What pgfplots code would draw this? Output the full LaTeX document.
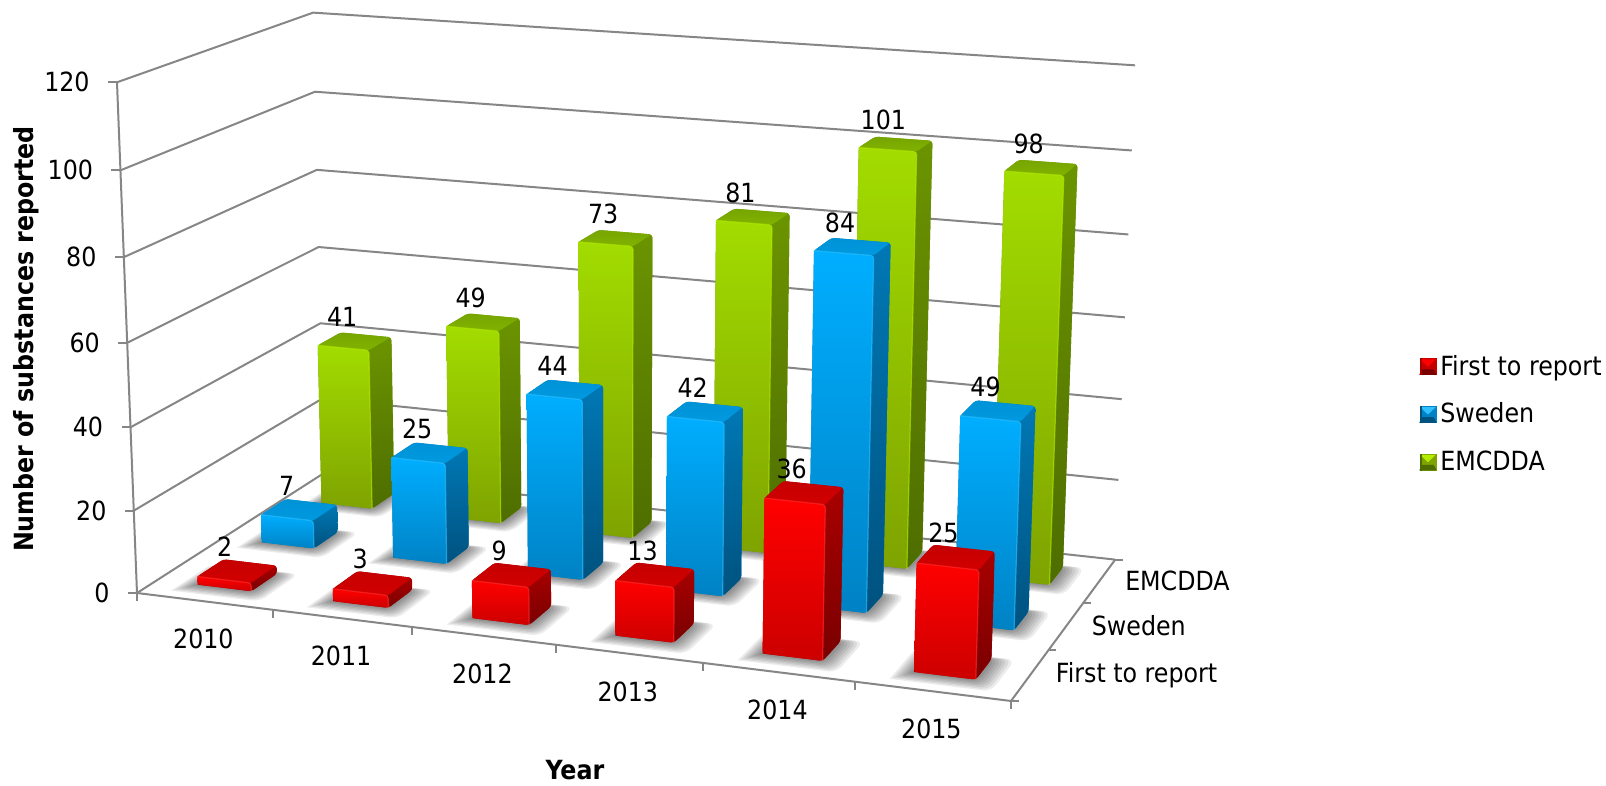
\documentclass[border=0pt]{standalone}
\usepackage{pgfplots}
\usepackage{pgfplotstable}
\usepackage{fontspec}
\pgfplotsset{compat=1.18}
\setmainfont{DejaVu Sans Condensed}[BoldFont={DejaVu Sans Condensed Bold}]
\newcommand\fs{\fontsize{13.2}{15.5}\selectfont}
\definecolor{grid}{HTML}{868686}
\definecolor{gT}{HTML}{A2DC00}\definecolor{gB}{HTML}{7FA300}\definecolor{gST}{HTML}{6B9400}\definecolor{gSB}{HTML}{4E6D00}\definecolor{gC}{HTML}{76A500}\definecolor{gL}{HTML}{B4EC00}
\definecolor{bT}{HTML}{00AEFF}\definecolor{bB}{HTML}{0082C4}\definecolor{bST}{HTML}{0078B5}\definecolor{bSB}{HTML}{00527F}\definecolor{bC}{HTML}{0092D6}\definecolor{bL}{HTML}{30C0FF}
\definecolor{rT}{HTML}{FF0000}\definecolor{rB}{HTML}{CC0000}\definecolor{rST}{HTML}{A80000}\definecolor{rSB}{HTML}{7A0000}\definecolor{rC}{HTML}{C40000}\definecolor{rL}{HTML}{FF3030}

% Perspective of the 3-D chart box: X = year slot 0..6, Y = series slot 0..3, Z = value 0..120
\pgfmathdeclarefunction{PU}{3}{\pgfmathparse{(792.4*((#1)/6)+224.4*((#2)/3)+137-24.68*((#3)/120))/(1-0.08073*((#1)/6)+0.11536*((#2)/3)-0.04*((#3)/120))}}
\pgfmathdeclarefunction{PV}{3}{\pgfmathparse{(51.4*((#1)/6)-65.41*((#2)/3)+593-514*((#3)/120))/(1-0.08073*((#1)/6)+0.11536*((#2)/3)-0.04*((#3)/120))}}
\newcommand\Pt[4]{\pgfmathparse{PU(#2,#3,#4)}\let\tu\pgfmathresult\pgfmathparse{PV(#2,#3,#4)}\expandafter\xdef\csname #1\endcsname{(\tu,\pgfmathresult)}}
\newcommand\face[2]{\edef\cmd{\noexpand\addplot[forget plot,#1] coordinates {#2};}\cmd}

\pgfplotstableread{
idx year value
0 2010 2
1 2011 3
2 2012 9
3 2013 13
4 2014 36
5 2015 25
}\tblFirst
\pgfplotstableread{
idx year value
0 2010 7
1 2011 25
2 2012 44
3 2013 42
4 2014 84
5 2015 49
}\tblSweden
\pgfplotstableread{
idx year value
0 2010 41
1 2011 49
2 2012 73
3 2013 81
4 2014 101
5 2015 98
}\tblEMCDDA
\pgfplotstableread[col sep=comma]{
pos,name
0.5,First to report
1.5,Sweden
2.5,EMCDDA
}\tblSeries
\pgfplotstableread{
tick side
0 0
20 0
40 0
60 0
80 0
100 0
120 0
}\tblTicks

\newcommand\seg[6]{\Pt{SA}{#1}{#2}{#3}\Pt{SB}{#4}{#5}{#6}\face{draw=grid,line width=1pt}{\SA \SB}}
\newcommand\shadow[2]{%
 \pgfplotsforeachungrouped \g in {0.005,0.02,0.035,0.05,0.065,0.08,0.095,0.11}{%
  \pgfmathsetmacro\xa{#1+0.3-\g}\pgfmathsetmacro\xb{#1+0.7+\g*1.3}\pgfmathsetmacro\ya{#2+0.3-\g*1.6}\pgfmathsetmacro\yb{#2+0.7+\g*0.4}%
  \Pt{Sa}{\xa}{\ya}{0}\Pt{Sb}{\xb}{\ya}{0}\Pt{Sc}{\xb}{\yb}{0}\Pt{Sd}{\xa}{\yb}{0}%
  \face{fill=black,fill opacity=0.075,draw=none,rounded corners=4pt}{\Sa \Sb \Sc \Sd \Sa}}}
\newcommand\drawbar[4]{% i, j, value, colour prefix
 \pgfmathsetmacro\xa{#1+0.3}\pgfmathsetmacro\xb{#1+0.7}\pgfmathsetmacro\ya{#2+0.3}\pgfmathsetmacro\yb{#2+0.7}%
 \Pt{FLB}{\xa}{\ya}{0}\Pt{FRB}{\xb}{\ya}{0}\Pt{BRB}{\xb}{\yb}{0}%
 \Pt{FLT}{\xa}{\ya}{#3}\Pt{FRT}{\xb}{\ya}{#3}\Pt{BRT}{\xb}{\yb}{#3}\Pt{BLT}{\xa}{\yb}{#3}%
 \face{draw=none,fill=#4ST,rounded corners=1.5pt}{\FLB \FRB \BRB \BRT \BLT \FLT \FLB}%
 \face{draw=none,shade,top color=#4C,bottom color=#4C!75!#4T,rounded corners=1.5pt}{\FLT \FRT \BRT \BLT \FLT}%
 \face{draw=none,shade,top color=#4ST,bottom color=#4SB,rounded corners=1.5pt}{\FRT \BRT \BRB \FRB \FRT}%
 \face{draw=none,shade,top color=#4T,bottom color=#4B,rounded corners=1.5pt}{\FLT \FRT \FRB \FLB \FLT}%
 \face{draw=#4L,line width=0.6pt,draw opacity=0.6,rounded corners=1.5pt}{\FLT \FRT \FRB}%
}
\newcommand\legimg[4]{\addlegendimage{legend image code/.code={%
  \fill[#2] (0pt,-4pt) rectangle (8pt,4pt);
  \fill[#1] (0.6pt,3.4pt) -- (7.4pt,3.4pt) -- (4pt,0.2pt) -- cycle;
  \fill[#3] (0pt,-4pt) -- (8pt,-4pt) -- (6.8pt,-1.6pt) -- (1.2pt,-1.6pt) -- cycle;
  \fill[#4] (0pt,-4pt) rectangle (0.7pt,4pt);
  }}}

\begin{document}
\begin{tikzpicture}
\useasboundingbox (0,0) rectangle (803pt,393pt);
\begin{axis}[
  at={(0,0)},anchor=south west,
  scale only axis,width=803pt,height=393pt,
  xmin=0,xmax=1606,ymin=0,ymax=786,y dir=reverse,
  enlargelimits=false,hide axis,clip=false,
  /pgf/number format/assume math mode=true,
  legend cell align=left,
  legend style={at={(axis cs:1419.5,351)},anchor=north west,draw=none,fill=none,font=\fs,row sep=8.4pt,inner sep=0pt,outer sep=0pt},
]
% legend
\legimg{rT}{rC}{rSB}{rST}\addlegendentry{First to report}
\legimg{bL}{bB}{bSB}{bSB}\addlegendentry{Sweden}
\legimg{gL}{gB}{gSB}{gSB}\addlegendentry{EMCDDA}

% walls
\pgfplotsforeachungrouped \z in {0,20,40,60,80,100,120}{%
  \Pt{GA}{0}{0}{\z}\Pt{GB}{0}{3}{\z}\Pt{GC}{6}{3}{\z}%
  \face{draw=grid,line width=1pt}{\GA \GB \GC}%
  \pgfmathparse{PU(0,0,\z)-9}\let\tkx\pgfmathresult
  \pgfmathparse{PV(0,0,\z)}\let\tky\pgfmathresult
  \edef\GT{(\tkx,\tky)}%
  \face{draw=grid,line width=1pt}{\GT \GA}%
}
\seg{0}{0}{0}{0}{0}{120}
\seg{0}{0}{0}{6}{0}{0}
\seg{6}{0}{0}{6}{3}{0}
% year ticks on the front edge, series ticks on the right edge
\pgfplotsforeachungrouped \k in {0,1,2,3,4,5,6}{%
  \pgfmathparse{PU(\k,0,0)}\let\tkx\pgfmathresult
  \pgfmathparse{PV(\k,0,0)}\let\tky\pgfmathresult
  \pgfmathparse{\tky+8}\let\tkz\pgfmathresult
  \edef\GA{(\tkx,\tky)}\edef\GT{(\tkx,\tkz)}%
  \face{draw=grid,line width=1pt}{\GA \GT}%
}
\pgfplotsforeachungrouped \k in {0,1,2,3}{%
  \pgfmathparse{PU(6,\k,0)}\let\tkx\pgfmathresult
  \pgfmathparse{PV(6,\k,0)}\let\tky\pgfmathresult
  \pgfmathparse{\tkx+8}\let\tkz\pgfmathresult
  \edef\GA{(\tkx,\tky)}\edef\GT{(\tkz,\tky)}%
  \face{draw=grid,line width=1pt}{\GA \GT}%
}
% floor shadows
\pgfplotsforeachungrouped \j in {2,1,0}{\pgfplotsforeachungrouped \i in {0,1,2,3,4,5}{\shadow{\i}{\j}}}
% bars, back row first
\pgfplotsforeachungrouped \r in {0,1,2,3,4,5}{%
  \pgfplotstablegetelem{\r}{value}\of\tblEMCDDA\let\val\pgfplotsretval
  \drawbar{\r}{2}{\val}{g}}
\pgfplotsforeachungrouped \r in {0,1,2,3,4,5}{%
  \pgfplotstablegetelem{\r}{value}\of\tblSweden\let\val\pgfplotsretval
  \drawbar{\r}{1}{\val}{b}}
\pgfplotsforeachungrouped \r in {0,1,2,3,4,5}{%
  \pgfplotstablegetelem{\r}{value}\of\tblFirst\let\val\pgfplotsretval
  \drawbar{\r}{0}{\val}{r}}

% data labels
\pgfplotsset{lab/.style={forget plot,draw=none,mark=none,point meta=explicit,
   nodes near coords={\pgfmathprintnumber[assume math mode=true,int detect]{\pgfplotspointmeta}},
   nodes near coords style={anchor=center,font=\fs,text=black,xshift=-6.25pt,yshift=12pt,inner sep=0pt}}}
\addplot[lab] table[x expr={PU(\thisrow{idx}+0.5,0.5,\thisrow{value})},y expr={PV(\thisrow{idx}+0.5,0.5,\thisrow{value})},meta=value]{\tblFirst};
\addplot[lab] table[x expr={PU(\thisrow{idx}+0.5,1.5,\thisrow{value})},y expr={PV(\thisrow{idx}+0.5,1.5,\thisrow{value})},meta=value]{\tblSweden};
\addplot[lab] table[x expr={PU(\thisrow{idx}+0.5,2.5,\thisrow{value})},y expr={PV(\thisrow{idx}+0.5,2.5,\thisrow{value})},meta=value]{\tblEMCDDA};
% value axis labels
\addplot[forget plot,draw=none,mark=none,point meta=explicit,
   nodes near coords={\pgfmathprintnumber[assume math mode=true,int detect]{\pgfplotspointmeta}},
   nodes near coords style={anchor=east,font=\fs,text=black,xshift=-13.5pt,yshift=0pt,inner sep=0pt}]
   table[x expr={PU(0,0,\thisrow{tick})},y expr={PV(0,0,\thisrow{tick})},meta=tick]{\tblTicks};
% year labels
\addplot[forget plot,draw=none,mark=none,point meta=explicit symbolic,
   nodes near coords={\pgfplotspointmeta},
   nodes near coords style={anchor=center,font=\fs,text=black,xshift=-0.5pt,yshift=-19pt,inner sep=0pt}]
   table[x expr={PU(\thisrow{idx}+0.5,0,0)},y expr={PV(\thisrow{idx}+0.5,0,0)},meta=year]{\tblFirst};
% series labels
\addplot[forget plot,draw=none,mark=none,point meta=explicit symbolic,
   nodes near coords={\pgfplotspointmeta},
   nodes near coords style={anchor=west,font=\fs,text=black,xshift=12.7pt,yshift=0pt,inner sep=0pt}]
   table[x expr={PU(6,\thisrow{pos},0)},y expr={PV(6,\thisrow{pos},0)},meta=name]{\tblSeries};
% axis titles
\node[rotate=90,font=\fs\bfseries,anchor=center,inner sep=0pt] at (axis cs:26,339) {Number of substances reported};
\node[font=\fs\bfseries,anchor=center,inner sep=0pt] at (axis cs:575,770) {Year};
\end{axis}
\end{tikzpicture}
\end{document}
